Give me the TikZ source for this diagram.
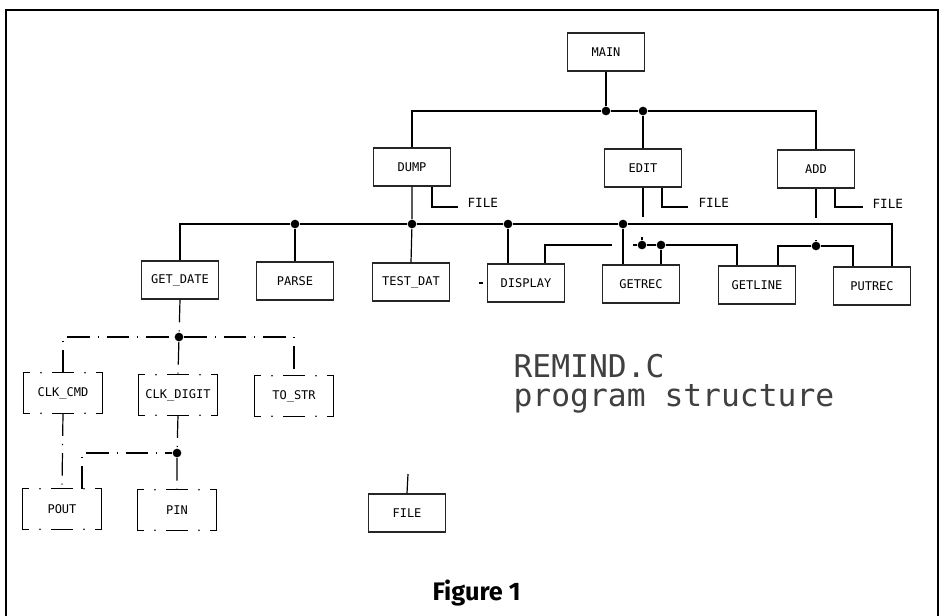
\documentclass[tikz,border=0pt]{standalone}
\usepackage{fontspec}
\setmainfont{Fira Sans}
\newfontfamily\plotfont{DejaVu Sans Mono}
\usetikzlibrary{calc}

\tikzset{every picture/.style={line width=0.9pt}}
\tikzset{
  box/.style={draw=black!85, minimum width=57.5pt, minimum height=28.5pt, inner sep=0pt, font=\plotfont\fontsize{9}{10}\selectfont},
  dashbox/.style={minimum width=58pt, minimum height=29.5pt, inner sep=0pt, font=\plotfont\fontsize{9}{10}\selectfont},
  junction/.style={circle, fill=black, inner sep=0pt, minimum size=6.5pt},
  filetag/.style={anchor=west, inner sep=0pt, font=\plotfont\fontsize{9.5}{10}\selectfont},
  dashdot/.style={dash pattern=on 17pt off 6pt on 0.8pt off 6pt},
}

\begin{document}
\begin{tikzpicture}[x=0.75pt,y=0.75pt,yscale=-1,xscale=1]
\useasboundingbox (0,0) rectangle (943,615);

%Shape: Frame
\draw [line width=2.2pt, line join=miter] (6,625) -- (6,10) -- (938,10) -- (938,625);

%Top level
\node [box] (main) at (606,52) {MAIN};
\node [box] (dump) at (412,167) {DUMP};
\node [box] (edit) at (643,168) {EDIT};
\node [box] (add) at (816,169) {ADD};
\node [junction] (jmain) at (606,111) {};
\node [junction] (jedit) at (643,111) {};
\draw (main.south) -- (jmain);
\draw (dump.north) |- (jmain) -- (jedit) -| (add.north);
\draw (jedit) -- (edit.north);

%Second level
\node [box] (getdate) at (180,280) {GET\_DATE};
\node [box] (parse) at (295,281) {PARSE};
\node [box] (testdat) at (411,282) {TEST\_DAT};
\node [box] (display) at (526,283) {DISPLAY};
\node [box] (getrec) at (641,284) {GETREC};
\node [box] (getline) at (757,285) {GETLINE};
\node [box] (putrec) at (872,286) {PUTREC};
\node [junction] (jparse) at (295,224) {};
\node [junction] (jtest) at (412,224) {};
\node [junction] (jdisp) at (508,224) {};
\node [junction] (jrec) at (623,224) {};
\draw (getdate.north) |- (jparse) -- (jtest) -- (jdisp) -- (jrec) -| ($(putrec.north)+(20,0)$);
\draw (jparse) -- (parse.north);
\draw (dump.south) -- (jtest) -- (testdat.north);
\draw (jdisp) -- (jdisp |- display.north);
\draw (jrec) -- (jrec |- getrec.north);
\draw (479,283) -- (483,283);

%FILE stubs
\node [filetag] (fdump) at (467,203) {FILE};
\node [filetag] (fedit) at (698,203) {FILE};
\node [filetag] (fadd) at (872,204) {FILE};
\coordinate (sdump) at (458,207);
\coordinate (sedit) at (688,207);
\coordinate (sadd) at (863,207);
\draw ($(dump.south)+(20,0)$) |- (sdump);
\draw ($(edit.south)+(19,0)$) |- (sedit);
\draw ($(add.south)+(19,0)$) |- (sadd);

%Calls below EDIT and ADD
\coordinate (eedit) at (643,217);
\coordinate (eadd) at (816,218);
\draw (edit.south) -- (eedit);
\draw (add.south) -- (eadd);
\node [junction] (jget1) at (642,245) {};
\node [junction] (jget2) at (661,245) {};
\node [junction] (jadd) at (816,246) {};
\coordinate (tget) at (642,237);
\coordinate (lget) at (633,245);
\coordinate (tadd) at (816,240);
\coordinate (edisp) at (612,245);
\draw (tget) -- (jget1);
\draw (lget) -- (jget1) -- (jget2) -| ($(getline.north)+(-20,0)$);
\draw (jget2) -- (jget2 |- getrec.north);
\draw ($(display.north)+(19,0)$) |- (edisp);
\draw (tadd) -- (jadd);
\draw ($(getline.north)+(21,0)$) |- (jadd) -| ($(putrec.north)+(-19,0)$);

%Third level (dash-dot)
\node [dashbox] (cmd) at (63,393) {CLK\_CMD};
\node [dashbox] (digit) at (178,395) {CLK\_DIGIT};
\node [dashbox] (str) at (294,396) {TO\_STR};
\node [dashbox] (pout) at (62,509) {POUT};
\node [dashbox] (pin) at (177,510) {PIN};
\node [junction] (jdate) at (179,337) {};
\node [junction] (jdigit) at (177,453) {};
\draw [dashdot] (getdate.south) -- (jdate);
\draw [dashdot] (cmd.north) |- (jdate) -| (str.north);
\draw [dashdot] (jdate) -- (digit.north);
\draw [dashdot] (cmd.south) -- (pout.north);
\draw [dashdot] (digit.south) -- (jdigit) -- (pin.north);
\draw [dashdot] ($(pout.north)+(20,0)$) |- (jdigit);
\foreach \n in {cmd,digit,str,pout,pin}{
  \draw ($(\n.north west)+(6,0)$) -- (\n.north west) -- (\n.south west) -- ++(6,0);
  \draw ($(\n.north east)+(-6,0)$) -- (\n.north east) -- (\n.south east) -- ++(-6,0);
  \draw ($(\n.north)+(-11,0)$) -- ($(\n.north)+(11,0)$);
  \draw ($(\n.south)+(-11,0)$) -- ($(\n.south)+(11,0)$);
  \foreach \f in {0.22,0.78}{
    \fill ($(\n.north west)!\f!(\n.north east)$) circle (0.7pt);
    \fill ($(\n.south west)!\f!(\n.south east)$) circle (0.7pt);
  }
}

%FILE box
\node [box] (file) at (407,513) {FILE};
\coordinate (tfile) at (408,474);
\draw (tfile) -- (file.north);

% Text Node
\node [anchor=base west, inner sep=0pt, align=left, text=black!75, font=\plotfont\fontsize{23.5}{21.75}\selectfont] (title) at (513,406) {REMIND.C\\program structure};
% Text Node
\node [anchor=base west, inner sep=0pt, font=\bfseries\fontsize{19}{22}\selectfont] (caption) at (432,600) {Figure 1};

\end{tikzpicture}
\end{document}
